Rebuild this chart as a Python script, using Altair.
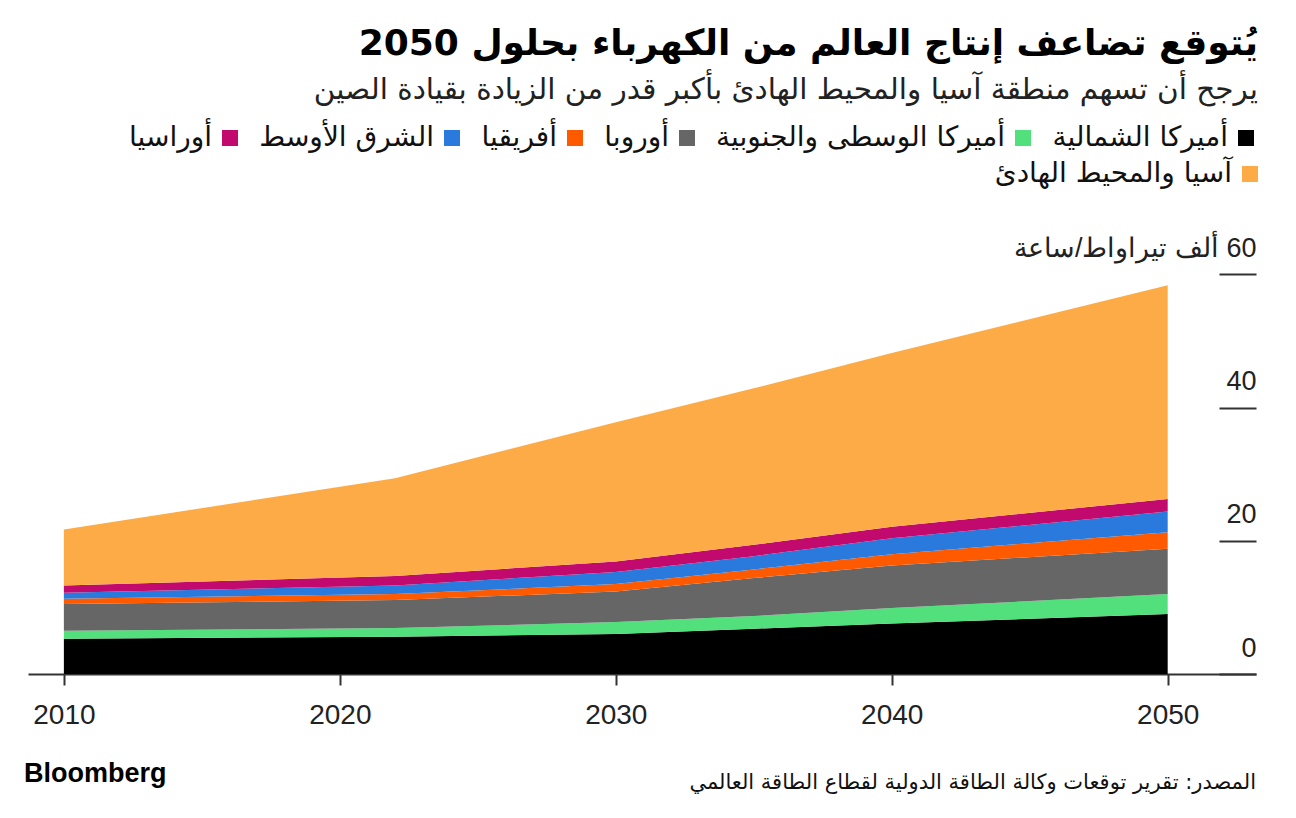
import altair as alt
import pandas as pd

# ---- data (thousand TWh) ----
years = [2010, 2022, 2030, 2035, 2040, 2050]
north_america = [5.3, 5.6, 6.0, 6.8, 7.6, 9.0]
central_south_america = [1.2, 1.3, 1.8, 1.9, 2.3, 3.0]
europe = [4.0, 4.2, 4.6, 5.7, 6.4, 6.8]
africa = [0.8, 0.9, 1.1, 1.3, 1.7, 2.5]
middle_east = [0.9, 1.3, 1.8, 2.0, 2.4, 3.1]
eurasia = [1.1, 1.4, 1.6, 1.7, 1.7, 1.9]
asia_pacific = [8.4, 14.7, 20.9, 23.5, 26.1, 32.1]

regions = ["أميركا الشمالية", "أميركا الوسطى والجنوبية", "أوروبا", "أفريقيا",
           "الشرق الأوسط", "أوراسيا", "آسيا والمحيط الهادئ"]
colors = ["#000000", "#52e07c", "#666666", "#ff5a00", "#2a7ade", "#c20a6e", "#fdab47"]
series = [north_america, central_south_america, europe, africa, middle_east, eurasia, asia_pacific]

x_ticks = [2010, 2020, 2030, 2040, 2050]
y_ticks = [0, 20, 40, 60]

title_text = "يُتوقع تضاعف إنتاج العالم من الكهرباء بحلول 2050"
subtitle_text = "يرجح أن تسهم منطقة آسيا والمحيط الهادئ بأكبر قدر من الزيادة بقيادة الصين"
unit_label = "\u200f60 ألف تيراواط/ساعة"
source_text = "المصدر: تقرير توقعات وكالة الطاقة الدولية لقطاع الطاقة العالمي"
brand_text = "Bloomberg"

rows = []
for i, (name, vals) in enumerate(zip(regions, series)):
    for y, v in zip(years, vals):
        rows.append({"year": y, "region": name, "value": v, "order": i})
df = pd.DataFrame(rows)

AR_FONT = "DejaVu Sans"
LAT_FONT = "Liberation Sans"

W, H = 1228, 552

xs = alt.Scale(domain=[2008.7, 2053.2], nice=False, zero=False)
ys = alt.Scale(domain=[0, 82.9], nice=False, zero=False)

x_axis = alt.Axis(values=x_ticks, format="d", title=None, grid=False,
                  domainColor="#333333", domainWidth=2, tickColor="#333333",
                  tickWidth=2, tickSize=11, labelFontSize=28, labelColor="#222222",
                  labelFont=LAT_FONT, labelPadding=16)
y_axis = alt.Axis(values=y_ticks, orient="right", offset=-37, title=None, grid=False,
                  domain=False, tickColor="#333333", tickWidth=2, tickSize=37,
                  labelAlign="right", labelPadding=0, labelBaseline="alphabetic",
                  labelOffset=-18, labelFontSize=27, labelColor="#222222", labelFont=LAT_FONT,
                  labelLimit=500,
                  labelExpr=f"datum.value == 60 ? '{unit_label}' : datum.label")

base = alt.Chart(df).transform_stack(
    stack="value", groupby=["year"], as_=["y0", "y1"],
    sort=[alt.SortField("order", order="ascending")]
)

leg_common = dict(title=None, direction="horizontal",
                  symbolType="square", symbolSize=256, symbolStrokeWidth=0,
                  labelFontSize=28, labelFont=AR_FONT, labelColor="#111111",
                  labelAlign="right", labelOffset={"expr": "-32"}, columnPadding=21,
                  labelLimit=600, padding=0)

order1 = regions[:6][::-1]
col1 = [colors[regions.index(r)] for r in order1]

areas1 = base.transform_filter(alt.datum.order < 6).mark_area(interpolate="linear").encode(
    x=alt.X("year:Q", scale=xs, axis=x_axis),
    y=alt.Y("y1:Q", scale=ys, axis=y_axis),
    y2="y0:Q",
    color=alt.Color("region:N", scale=alt.Scale(domain=order1, range=col1),
                    legend=alt.Legend(columns=6, orient="top-right", offset=2, **leg_common)),
)

areas2 = base.transform_filter(alt.datum.order == 6).mark_area(interpolate="linear").encode(
    x=alt.X("year:Q", scale=xs),
    y=alt.Y("y1:Q", scale=ys),
    y2="y0:Q",
    color=alt.Color("region:N", scale=alt.Scale(domain=[regions[6]], range=[colors[6]]),
                    legend=alt.Legend(columns=1, orient="none", legendX=W - 20, legendY=38,
                                      **leg_common)),
)

brand = alt.Chart(pd.DataFrame({"t": [brand_text]})).mark_text(
    align="left", baseline="middle", font=LAT_FONT, fontSize=27, fontWeight="bold",
    color="#000000").encode(text="t:N", x=alt.value(-4), y=alt.value(652))

source = alt.Chart(pd.DataFrame({"t": [source_text]})).mark_text(
    align="right", baseline="middle", font=AR_FONT, fontSize=21,
    color="#111111").encode(text="t:N", x=alt.value(W), y=alt.value(661))

chart = alt.layer(areas1, areas2, brand, source).resolve_scale(
    color="independent"
).properties(
    width=W, height=H,
    background="white",
    title=alt.Title(text=title_text, subtitle=subtitle_text, anchor="end",
                    font=AR_FONT, fontSize=36, fontWeight="bold", color="#000000",
                    subtitleFont=AR_FONT, subtitleFontSize=29.5, subtitleColor="#222222",
                    subtitlePadding=13, offset=17),
    autosize=alt.AutoSizeParams(type="none"),
    padding={"left": 20, "top": 114, "right": 30, "bottom": 130},
).configure_view(strokeWidth=0, stroke="transparent")

chart.save("out.html", embed_options={"renderer": "svg", "actions": False})
